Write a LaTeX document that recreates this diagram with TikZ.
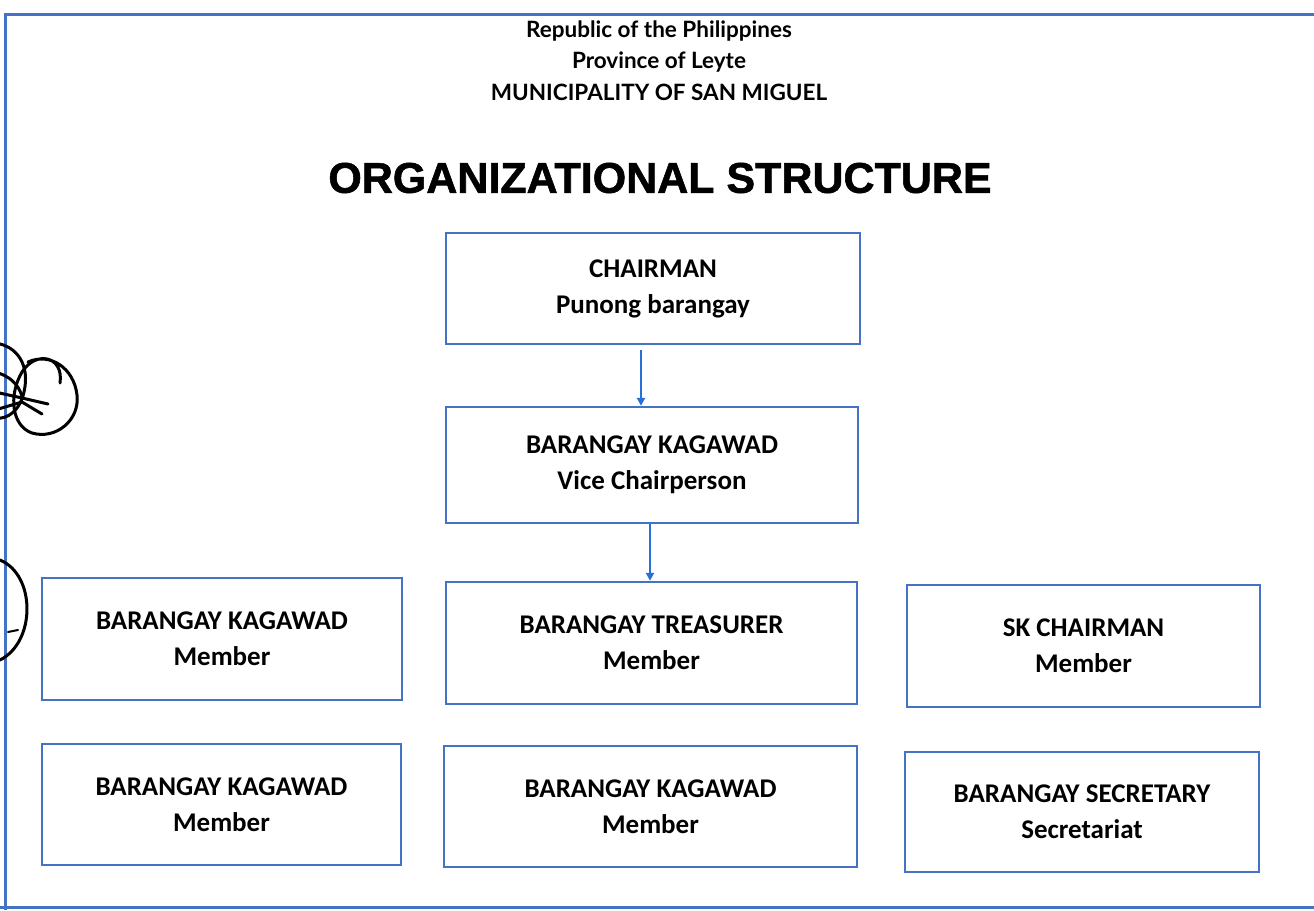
\documentclass[tikz,border=0pt]{standalone}
\usepackage{fontspec}
\setmainfont{Carlito}
\newfontfamily\headfont{Lato}
\newfontfamily\titlefont[BoldFeatures={FakeBold=1.3}]{Liberation Sans}
\usetikzlibrary{arrows.meta}

\definecolor{boxblue}{RGB}{68,114,196}
\definecolor{arrowblue}{RGB}{40,110,220}

\begin{document}
\begin{tikzpicture}[x=1pt,y=-1pt,
    post/.style={draw=boxblue,line width=2.4pt,align=center,inner sep=0pt,
        font=\fontsize{27}{36}\selectfont\bfseries},
    head/.style={font=\headfont\bfseries\fontsize{22.5}{24}\selectfont},
    link/.style={draw=arrowblue,line width=2.2pt,-{Triangle[length=8pt,width=8pt]}},
    sig/.style={line width=3pt,line cap=round,line join=round}]
\useasboundingbox (0,0) rectangle (1314,910);

% page frame
\draw[boxblue,line width=3pt] (0,907) -- (1314,907);
\draw[boxblue,line width=3pt] (5,910) -- (5,14) -- (1314,14);

% heading
\node[head] (rep) at (659,31) {Republic of the Philippines};
\node[head] (prov) at (659,62) {Province of Leyte};
\node[head] (mun) at (659,92) {MUNICIPALITY OF SAN MIGUEL};
\node (title) at (660,178) {\titlefont\bfseries\fontsize{43}{48}\selectfont ORGANIZATIONAL STRUCTURE};

% top of the chain
\node[post,minimum width=414pt,minimum height=111pt] (chair) at (653,288.5) {CHAIRMAN\\Punong barangay};
\node[post,minimum width=412pt,minimum height=116pt] (vice) at (652,465) {BARANGAY KAGAWAD\\Vice Chairperson};

% members, row 1
\node[post,minimum width=360pt,minimum height=122pt] (kag1) at (222,639) {BARANGAY KAGAWAD\\Member};
\node[post,minimum width=411pt,minimum height=122pt] (treas) at (651.5,643) {BARANGAY TREASURER\\Member};
\node[post,minimum width=353pt,minimum height=122pt] (sk) at (1083.5,646) {SK CHAIRMAN\\Member};

% members, row 2
\node[post,minimum width=359pt,minimum height=121pt] (kag2) at (221.5,804.5) {BARANGAY KAGAWAD\\Member};
\node[post,minimum width=413pt,minimum height=121pt] (kag3) at (650.5,806.5) {BARANGAY KAGAWAD\\Member};
\node[post,minimum width=354pt,minimum height=120pt] (sec) at (1082,812) {BARANGAY SECRETARY\\Secretariat};

% arrows down
\coordinate (a1) at ([xshift=-12pt,yshift=-5pt]chair.south);
\draw[link] (a1) -- (a1 |- vice.north);
\coordinate (a2) at ([xshift=-2pt]vice.south);
\draw[link] (a2) -- (a2 |- treas.north);

% signature in the margin
\draw[sig] (60,383) .. controls (64,356) and (36,350) .. (22,372)
    .. controls (8,396) and (12,426) .. (32,433)
    .. controls (56,440) and (80,420) .. (77,395)
    .. controls (74,368) and (50,352) .. (28,362);
\draw[sig] (-5,343) .. controls (18,346) and (30,366) .. (24,392) .. controls (20,410) and (8,420) .. (-5,418);
\draw[sig] (-5,372) .. controls (10,376) and (18,384) .. (22,396);
\draw[sig] (-5,392) -- (22,398) -- (48,404);
\draw[sig] (-5,410) -- (22,402) -- (42,414);
\draw[sig] (0,560) .. controls (36,575) and (36,642) .. (0,660);
\draw[sig,line width=2pt] (8,632) -- (18,630);
\end{tikzpicture}
\end{document}
